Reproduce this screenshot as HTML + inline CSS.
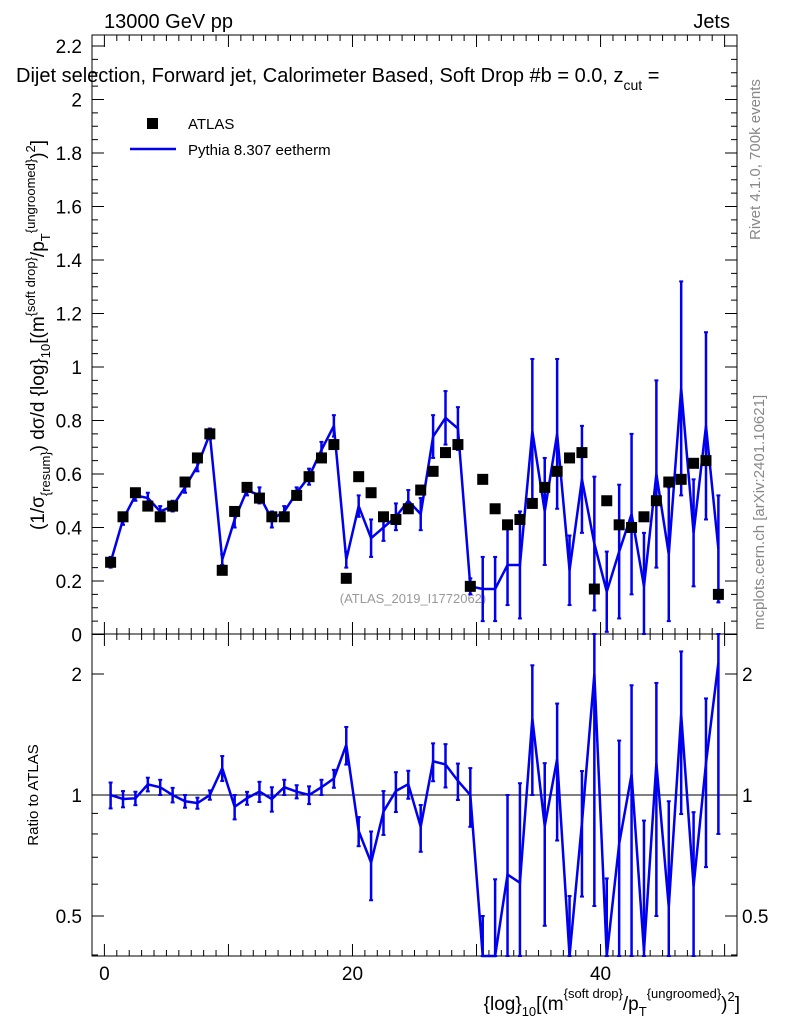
<!DOCTYPE html>
<html><head><meta charset="utf-8"><style>
body{margin:0;background:#fff;width:786px;height:1024px;overflow:hidden}
svg{font-family:"Liberation Sans",sans-serif}
</style></head><body>
<svg id="c" width="786" height="1024" xmlns="http://www.w3.org/2000/svg">
<text x="104" y="28" font-size="20">13000 GeV pp</text>
<text x="730" y="28" font-size="20" text-anchor="end">Jets</text>
<text x="16" y="82" font-size="20">Dijet selection, Forward jet, Calorimeter Based, Soft Drop #b = 0.0, z<tspan font-size="14" dy="8">cut</tspan><tspan dy="-8"> =</tspan></text>
<text transform="translate(760,240) rotate(-90)" font-size="15" fill="#888">Rivet 4.1.0,  700k events</text>
<text transform="translate(764,630) rotate(-90)" font-size="15" fill="#888">mcplots.cern.ch [arXiv:2401.10621]</text>
<text x="413" y="603" font-size="13" fill="#999" text-anchor="middle">(ATLAS_2019_I1772062)</text>
<text transform="translate(44,335) rotate(-90)" font-size="19" text-anchor="middle">(1/σ<tspan font-size="13" dy="6">{resum}</tspan><tspan dy="-6">) dσ/d {log}</tspan><tspan font-size="13" dy="6">10</tspan><tspan dy="-6">[(m</tspan><tspan font-size="13" dy="-9">{soft drop}</tspan><tspan dy="9">/p</tspan><tspan font-size="13" dy="6">T</tspan><tspan font-size="13" dy="-15">{ungroomed}</tspan><tspan dy="9">)</tspan><tspan font-size="13" dy="-9">2</tspan><tspan dy="9">]</tspan></text>
<text transform="translate(38,795) rotate(-90)" font-size="15" text-anchor="middle">Ratio to ATLAS</text>
<text x="740" y="1010" font-size="19" text-anchor="end">{log}<tspan font-size="13" dy="6">10</tspan><tspan dy="-6">[(m</tspan><tspan font-size="13" dy="-12">{soft drop}</tspan><tspan dy="12">/p</tspan><tspan font-size="13" dy="6">T</tspan><tspan font-size="13" dy="-18">{ungroomed}</tspan><tspan dy="12">)</tspan><tspan font-size="13" dy="-9">2</tspan><tspan dy="9">]</tspan></text>
<g>
<rect x="147" y="118" width="11" height="11" fill="#000"/>
<text x="188" y="129" font-size="15">ATLAS</text>
<line x1="130" y1="149" x2="176" y2="149" stroke="#0000ee" stroke-width="2.5"/>
<text x="188" y="155" font-size="15">Pythia 8.307 eetherm</text>
</g>
<g id="g"></g>
</svg>
<script>
const xs=[];for(let i=0;i<50;i++)xs.push(i+0.5);
const dataVals=[0.27,0.44,0.53,0.48,0.44,0.48,0.57,0.66,0.75,0.24,0.46,0.55,0.51,0.44,0.44,0.52,0.59,0.66,0.71,0.21,0.59,0.53,0.44,0.43,0.47,0.54,0.61,0.68,0.71,0.18,0.58,0.47,0.41,0.43,0.49,0.55,0.61,0.66,0.68,0.17,0.50,0.41,0.40,0.44,0.50,0.57,0.58,0.64,0.65,0.15];
const mcVals=[0.27,0.43,0.52,0.51,0.46,0.48,0.55,0.63,0.75,0.28,0.43,0.54,0.52,0.43,0.46,0.53,0.59,0.69,0.78,0.28,0.48,0.36,0.40,0.44,0.50,0.45,0.74,0.81,0.77,0.18,0.17,0.17,0.26,0.26,0.76,0.46,0.75,0.24,0.58,0.34,0.16,0.31,0.45,0.18,0.60,0.30,0.92,0.38,0.78,0.32];
const mcErr=[0.02,0.02,0.02,0.02,0.02,0.02,0.02,0.02,0.02,0.02,0.03,0.02,0.03,0.03,0.02,0.02,0.03,0.03,0.04,0.03,0.04,0.07,0.05,0.05,0.04,0.06,0.08,0.10,0.08,0.03,0.12,0.12,0.15,0.20,0.27,0.20,0.28,0.13,0.20,0.25,0.15,0.25,0.30,0.20,0.35,0.25,0.40,0.20,0.35,0.20];
const xTicks=[0,20,40];
const yTicks=[0,0.2,0.4,0.6,0.8,1,1.2,1.4,1.6,1.8,2,2.2];
const rTicks=[0.5,1,2];
const L=92,R=737,T1=35,B1=634,T2=634,B2=956;
const X=v=>L+(v+1)/52*(R-L);
const Y=v=>634.5-v*267.5;
const YR=v=>795-Math.log2(v)*121;
const g=document.getElementById('g');const NS='http://www.w3.org/2000/svg';
function mk(t,a){const e=document.createElementNS(NS,t);for(const k in a)e.setAttribute(k,a[k]);g.appendChild(e);return e;}
let e;
e=mk('rect',{x:L,y:T1,width:R-L,height:B1-T1,fill:'none',stroke:'#000'});


e=mk('rect',{x:L,y:T2,width:R-L,height:B2-T2,fill:'none',stroke:'#000'});


e=mk('line',{x1:L,x2:R,y1:YR(1),y2:YR(1),stroke:'#000'});


for(let v=0;v<=50;v++){const big=v%10==0;
 mk('line',{x1:X(v),x2:X(v),y1:B1,y2:B1-(big?12:6),stroke:'#000'});
 mk('line',{x1:X(v),x2:X(v),y1:B2,y2:B2-(big?12:6),stroke:'#000'});
 mk('line',{x1:X(v),x2:X(v),y1:T2,y2:T2+(big?12:6),stroke:'#000'});
 mk('line',{x1:X(v),x2:X(v),y1:T1,y2:T1+(big?12:6),stroke:'#000'});}
xTicks.forEach(v=>{e=mk('text',{x:X(v),y:980,'font-size':19,'text-anchor':'middle'});e.textContent=v;

});
for(let v=0;v<=2.24;v+=0.05){const big=Math.abs(v*5-Math.round(v*5))<1e-6;
 mk('line',{x1:L,x2:L+(big?12:6),y1:Y(v),y2:Y(v),stroke:'#000'});
 mk('line',{x1:R,x2:R-(big?12:6),y1:Y(v),y2:Y(v),stroke:'#000'});}
yTicks.forEach(v=>{e=mk('text',{x:82,y:Y(v)+7,'font-size':19,'text-anchor':'end'});e.textContent=String(v);

});
[0.4,0.5,0.6,0.7,0.8,0.9,1,2].forEach(v=>{const big=rTicks.includes(v);
 mk('line',{x1:L,x2:L+(big?12:6),y1:YR(v),y2:YR(v),stroke:'#000'});
 mk('line',{x1:R,x2:R-(big?12:6),y1:YR(v),y2:YR(v),stroke:'#000'});});
rTicks.forEach(v=>{e=mk('text',{x:82,y:YR(v)+7,'font-size':19,'text-anchor':'end'});e.textContent=v;


e=mk('text',{x:742,y:YR(v)+7,'font-size':19});e.textContent=v;

});
const cY=v=>Math.max(T1,Math.min(B1,Y(v)));
const cR=v=>Math.max(T2,Math.min(B2,YR(Math.max(v,0.01))));
// main MC
e=mk('polyline',{points:xs.map((x,i)=>X(x)+','+cY(mcVals[i])).join(' '),fill:'none',stroke:'#0000ee','stroke-width':2.5});


xs.forEach((x,i)=>{const a=cY(mcVals[i]-mcErr[i]),b=cY(mcVals[i]+mcErr[i]);
 e=mk('line',{x1:X(x),x2:X(x),y1:a,y2:b,stroke:'#0000ee','stroke-width':2.5});
 
 
 mk('line',{x1:X(x)-2,x2:X(x)+2,y1:a,y2:a,stroke:'#0000ee','stroke-width':2});
 mk('line',{x1:X(x)-2,x2:X(x)+2,y1:b,y2:b,stroke:'#0000ee','stroke-width':2});});
xs.forEach((x,i)=>{e=mk('rect',{x:X(x)-5.5,y:Y(dataVals[i])-5.5,width:11,height:11,fill:'#000'});
 
 });
// ratio
const rat=xs.map((x,i)=>mcVals[i]/dataVals[i]);
e=mk('polyline',{points:xs.map((x,i)=>X(x)+','+cR(rat[i])).join(' '),fill:'none',stroke:'#0000ee','stroke-width':2.5});


xs.forEach((x,i)=>{const er=mcErr[i]/dataVals[i];const a=cR(rat[i]-er),b=cR(rat[i]+er);
 e=mk('line',{x1:X(x),x2:X(x),y1:a,y2:b,stroke:'#0000ee','stroke-width':2.5});
 
 
 mk('line',{x1:X(x)-2,x2:X(x)+2,y1:a,y2:a,stroke:'#0000ee','stroke-width':2});
 mk('line',{x1:X(x)-2,x2:X(x)+2,y1:b,y2:b,stroke:'#0000ee','stroke-width':2});});
</script>
</body></html>
